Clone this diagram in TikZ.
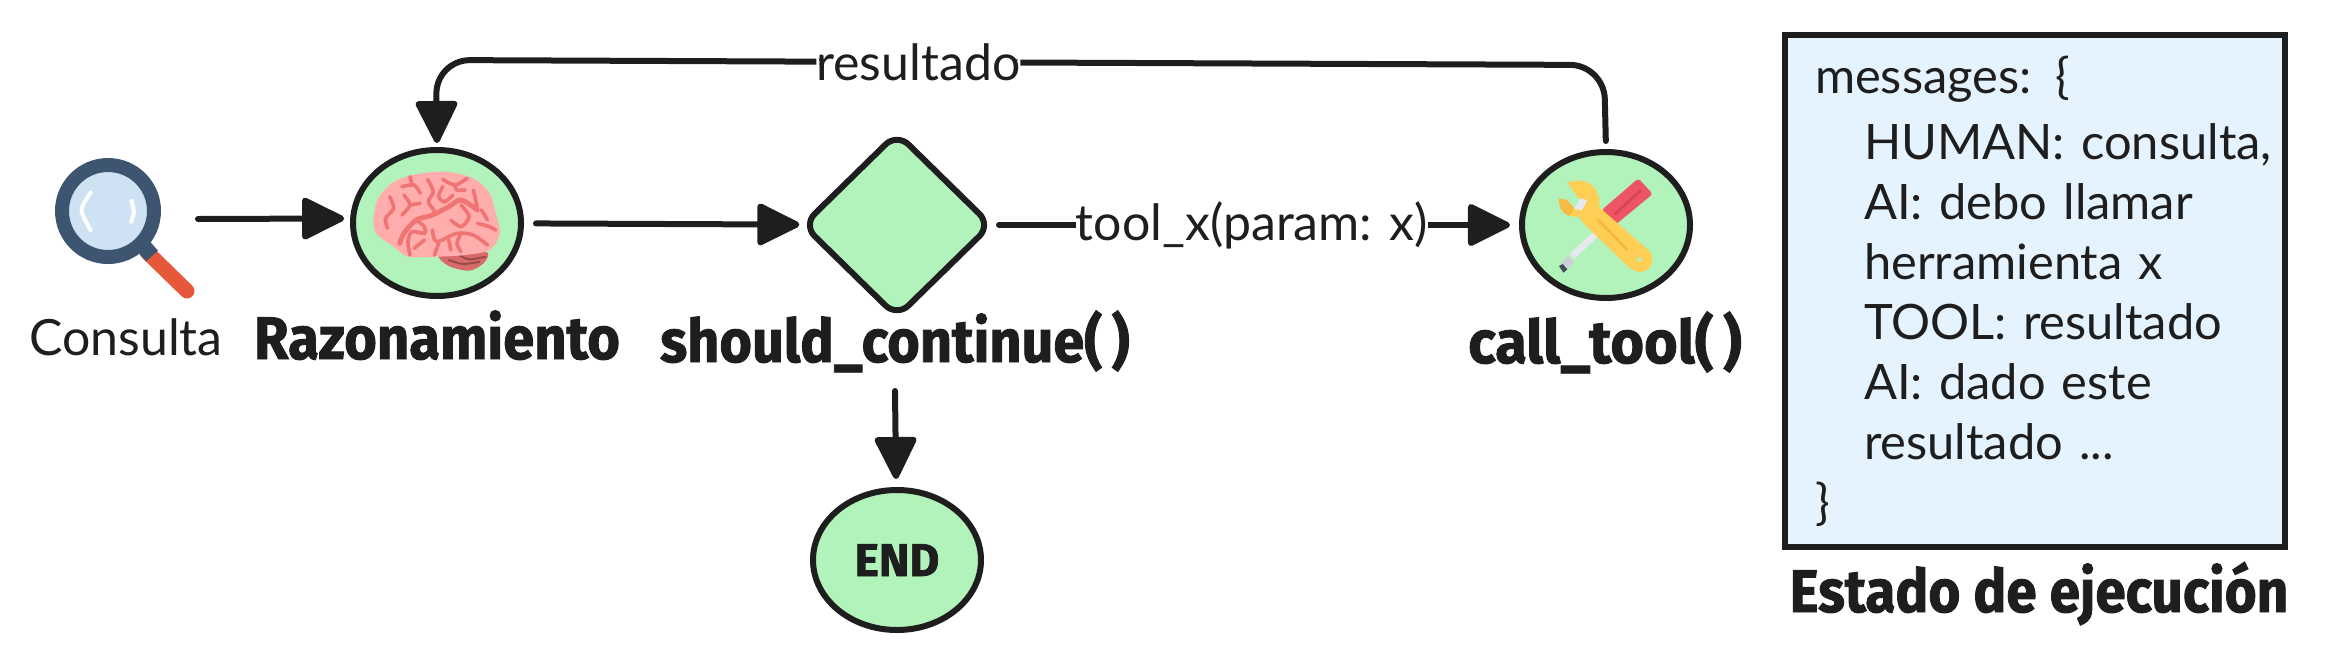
\documentclass[tikz,border=0pt]{standalone}
\usepackage{fontspec}
\setmainfont{Lato}
\newfontfamily\titlefont[UprightFont=* Bold, FakeBold=1.5]{Fira Sans}
\usetikzlibrary{shapes.geometric, positioning, arrows.meta}
\definecolor{ink}{HTML}{1E1E1E}
\definecolor{mint}{HTML}{B2F2BB}
\definecolor{sky}{HTML}{E5F3FE}
\tikzset{
>={Triangle[length=23pt,width=22pt,round]}, % big filled heads
flow/.style={->, draw=ink, line width=3pt, line cap=round, line join=round},
stage/.style={ellipse, draw=ink, line width=3pt, fill=mint, minimum width=84pt, minimum height=73pt, inner sep=0pt},
check/.style={diamond, draw=ink, line width=3pt, fill=mint, rounded corners=8pt, minimum width=95pt, minimum height=93pt, inner sep=0pt},
title/.style={text=ink, font=\titlefont\fontsize{30}{36}\selectfont, anchor=base, inner sep=0pt, transform shape},
plain/.style={text=ink, font=\fontsize{25}{30}\selectfont, inner sep=0pt},
edgelabel/.style={plain, fill=white},
statebox/.style={rectangle, draw=ink, line width=3pt, fill=sky, minimum width=250pt, minimum height=256pt, inner xsep=15pt, text width=220pt, align=left, text=ink, font=\fontsize{24.4}{30}\selectfont},
lens/.style={circle, draw=lensring, fill=lensfill, line width=7pt, minimum size=46pt, inner sep=0pt},
fold/.style={draw=brainfold, line width=1.8pt, line cap=round, line join=round},
}
\definecolor{lensring}{HTML}{3D5570}
\definecolor{lensfill}{HTML}{CFE2F3}
\definecolor{handlered}{HTML}{E6583A}
\definecolor{brainpink}{HTML}{FFADAD}
\definecolor{brainfold}{HTML}{F07474}
\definecolor{brainback}{HTML}{D96A6A}
\definecolor{wrenchyellow}{HTML}{FFCE54}
\definecolor{wrenchdark}{HTML}{F6BB42}
\definecolor{driverred}{HTML}{ED5565}
\definecolor{driverdark}{HTML}{DA4453}
\definecolor{steel}{HTML}{E6E9ED}
\definecolor{steeldark}{HTML}{CCD1D9}
\definecolor{driverblack}{HTML}{434A54}
\begin{document}
\begin{tikzpicture}[x=0.5pt, y=-0.5pt]
\useasboundingbox (0,0) rectangle (2325,660);

% magnifier
\draw[handlered, line width=7.5pt, line cap=round] (147,252) -- (187,291);
\draw[lensring, line width=8pt] (138,240) -- (152,256);
\node[lens] (lupa) at (108,211) {};
\begin{scope}[yshift=-60pt, x=0.204pt, y=-0.1667pt]
\draw[white, line width=2pt, line cap=round] plot[smooth] coordinates {(222,218) (200,270) (222,330)};
\draw[white, line width=2pt, line cap=round] plot[smooth] coordinates {(322,243) (328,275) (322,305)};
\end{scope}
\node[plain, anchor=base] (consulta) at (126,355) {Consulta};
\coordinate (lupa_fin) at (198,219);

% nodes
\node[stage] (razon) at (437,223) {};
\node[check, right of=razon, node distance=230pt, yshift=-1pt] (continue) {};
\node[stage, right of=continue, node distance=354.5pt] (tool) {};
\node[stage, below of=continue, node distance=167.5pt, minimum height=70pt] (end) {};
\node[title, below of=razon, node distance=68pt, anchor=base, xscale=.935] (razon_txt) {Razonamiento};
\node[title, below of=continue, node distance=68.5pt, anchor=base, xshift=-1pt, xscale=.93] (continue_txt) {should\_continue(\,)};
\node[title, below of=tool, node distance=69pt, anchor=base, xshift=-0.5pt, xscale=.96] (tool_txt) {call\_tool(\,)};
\node[title, font=\titlefont\fontsize{23}{28}\selectfont, below of=end, node distance=8pt, anchor=base] (end_txt) {END};

% brain
\begin{scope}[yshift=-60pt, x=0.204pt, y=-0.1667pt]
\fill[brainback] plot[smooth cycle] coordinates {(1075,405) (1100,438) (1150,452) (1185,430) (1195,398) (1140,388)};
\draw[fold, draw=brainback!70!black, line width=1pt] plot[smooth] coordinates {(1100,420) (1135,432) (1175,425)};
\draw[fold, draw=brainback!70!black, line width=1pt] plot[smooth] coordinates {(1125,405) (1150,418) (1190,410)};
\fill[brainpink] plot[smooth cycle] coordinates {(915,310) (925,240) (960,190) (1010,165) (1090,155) (1160,175) (1200,220) (1215,280) (1225,340) (1200,390) (1140,405) (1070,410) (1000,410) (960,375) (925,345)};
\draw[fold] plot[smooth] coordinates {(985,200) (1015,195) (1030,220)};
\draw[fold] (1005,170) -- (1010,195);
\draw[fold] plot[smooth] coordinates {(955,230) (965,265) (945,295) (950,325)};
\draw[fold] plot[smooth] coordinates {(990,225) (1005,255) (985,285)};
\draw[fold] (1005,255) -- (1030,250);
\draw[fold] plot[smooth] coordinates {(1048,178) (1062,215) (1050,245) (1065,275) (1050,290)};
\draw[fold] plot[smooth] coordinates {(1085,178) (1115,195) (1145,175)};
\draw[fold] plot[smooth] coordinates {(1115,195) (1120,210) (1140,210)};
\draw[fold] plot[smooth] coordinates {(1085,200) (1075,230) (1090,245) (1110,225)};
\draw[fold, line width=2.4pt] plot[smooth] coordinates {(980,370) (990,340) (1020,300) (1060,285) (1100,260) (1130,240) (1170,270)};
\draw[fold] plot[smooth] coordinates {(1170,270) (1165,235) (1160,210)};
\draw[fold] plot[smooth] coordinates {(1130,255) (1150,290) (1130,320) (1105,300)};
\draw[fold] plot[smooth] coordinates {(1020,300) (1040,320) (1040,340) (1010,335) (1000,365) (1005,405)};
\draw[fold] plot[smooth] coordinates {(1060,330) (1070,365) (1120,340) (1160,345) (1195,375)};
\draw[fold] plot[smooth] coordinates {(1130,340) (1120,370) (1130,395)};
\draw[fold] (1075,370) -- (1065,405);
\draw[fold] (1015,385) -- (1040,360);
\draw[fold] (1100,360) -- (1105,390);
\draw[fold] plot[smooth] coordinates {(1170,310) (1200,320) (1215,330)};
\draw[fold] (1180,270) -- (1195,300);
\end{scope}

% wrench and screwdriver
\begin{scope}[xshift=740pt, yshift=-60pt, x=0.1667pt, y=-0.1667pt]
\draw[line width=3.5pt, draw=steel] (355,335) -- (275,410);
\fill[steeldark, rounded corners=1pt] (262,408) -- (285,425) -- (262,448) -- (240,435) -- cycle;
\fill[driverblack] (237,438) -- (248,432) -- (262,448) -- (250,458) -- cycle;
\fill[driverred, rounded corners=1.5pt] (475,175) -- (518,222) -- (405,315) -- (365,270) -- cycle;
\draw[driverdark, line width=1.5pt, line cap=round] (482,212) -- (405,282);
\fill[wrenchyellow] (262,188) .. controls (310,170) and (350,190) .. (358,240) -- (358,262) -- (510,395) .. controls (530,430) and (505,460) .. (470,455) -- (450,445) -- (320,320) -- (295,290) -- (268,288) -- (300,240) -- cycle;
\fill[wrenchdark] (237,235) -- (262,240) -- (283,265) -- (268,288) .. controls (245,280) and (235,260) .. (237,235) -- cycle;
\fill[steel] (300,235) -- (322,240) -- (305,272) -- (282,265) -- cycle;
\draw[wrenchdark, line width=1.5pt, line cap=round] (355,300) -- (440,388);
\fill[mint] (478,418) circle (1.2pt);
\end{scope}

% state box
\node[statebox] (estado) at (2035,291) {\vspace*{3pt}messages: \{\\
\hspace*{24.5pt}\mbox{HUMAN: consulta,}\\
\hspace*{24.5pt}AI: debo llamar\\
\hspace*{24.5pt}herramienta x\\
\hspace*{24.5pt}TOOL: resultado\\
\hspace*{24.5pt}AI: dado este\\
\hspace*{24.5pt}resultado ...\\
\}};
\node[title, below of=estado, node distance=160.5pt, anchor=base, xshift=2pt, xscale=.915] (estado_txt) {Estado de ejecución};

% connectors
\coordinate (loop_r) at (1604,65);
\coordinate (loop_l) at (436,60);
\coordinate (fin_check) at (895,391);
\draw[flow, shorten >=3pt] (lupa_fin) -- (razon.177);
\draw[flow, shorten <=6pt] (razon) -- (continue);
\draw[flow, shorten <=2pt, shorten >=4.5pt] (continue) -- node[edgelabel, pos=.49] (tool_lbl) {tool\_x(param: x)} (tool);
\draw[flow, shorten >=4pt] (fin_check) -- (end);
\draw[flow, rounded corners=17pt, shorten <=4pt, shorten >=2pt] (tool.north) -- (loop_r) -- node[edgelabel, pos=.587] (res_lbl) {resultado} (loop_l) -- (razon.north);
\end{tikzpicture}
\end{document}
